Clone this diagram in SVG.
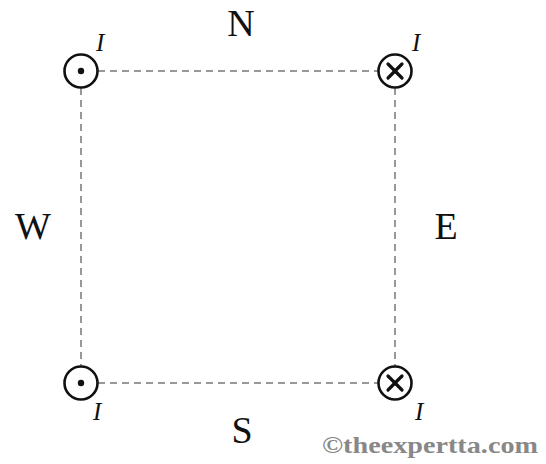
<svg xmlns="http://www.w3.org/2000/svg" width="546" height="464" viewBox="0 0 546 464">
<style>
.lbl{font-family:"Liberation Serif",serif;font-size:38px;fill:#111;text-anchor:middle}
.cur{font-family:"Liberation Serif",serif;font-size:25px;font-style:italic;fill:#111}
.ring{fill:#fff;stroke:#111;stroke-width:2.6}
.dash{stroke:#777;stroke-width:1.5;stroke-dasharray:7 5;fill:none}
.x{stroke:#111;stroke-width:3.2;stroke-linecap:round}
.wm{font-family:"Liberation Serif",serif;font-size:23px;font-weight:bold;fill:#888}
</style>
<rect width="546" height="464" fill="#fff"/>
<g id="connectors">
<line class="dash" x1="98" y1="71" x2="378" y2="71"/>
<line class="dash" x1="98" y1="383" x2="378" y2="383"/>
<line class="dash" x1="81" y1="88" x2="81" y2="366"/>
<line class="dash" x1="395" y1="88" x2="395" y2="366"/>
</g>
<g id="wire-nw">
<circle class="ring" cx="81" cy="71" r="16.5"/>
<circle cx="81" cy="71" r="3.2" fill="#111"/>
<text class="cur" x="96" y="51">I</text>
</g>
<g id="wire-ne">
<circle class="ring" cx="395" cy="71" r="16.5"/>
<line class="x" x1="388" y1="64" x2="402" y2="78"/>
<line class="x" x1="402" y1="64" x2="388" y2="78"/>
<text class="cur" x="412" y="51">I</text>
</g>
<g id="wire-sw">
<circle class="ring" cx="81" cy="383" r="16.5"/>
<circle cx="81" cy="383" r="3.2" fill="#111"/>
<text class="cur" x="93" y="420">I</text>
</g>
<g id="wire-se">
<circle class="ring" cx="395" cy="383" r="16.5"/>
<line class="x" x1="388" y1="376" x2="402" y2="390"/>
<line class="x" x1="402" y1="376" x2="388" y2="390"/>
<text class="cur" x="415" y="420">I</text>
</g>
<g id="labels">
<text class="lbl" x="241" y="36">N</text>
<text class="lbl" x="33" y="239">W</text>
<text class="lbl" x="446" y="239">E</text>
<text class="lbl" x="242" y="443">S</text>
</g>
<text class="wm" x="322" y="453" textLength="216" lengthAdjust="spacingAndGlyphs">©theexpertta.com</text>
</svg>
